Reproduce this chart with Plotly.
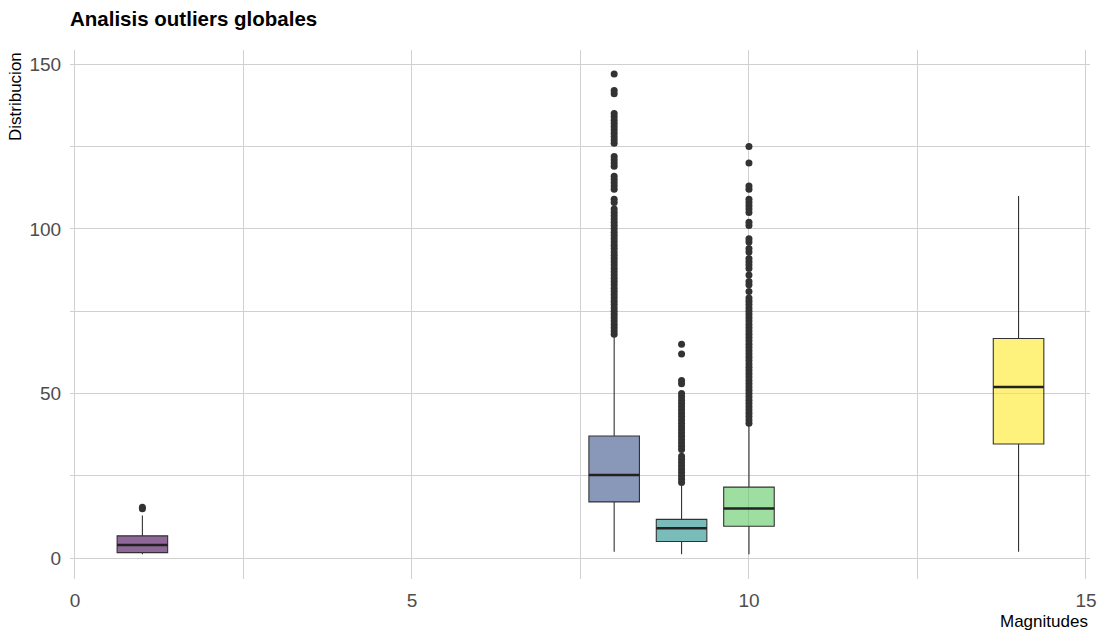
import plotly.graph_objects as go

# Box statistics per magnitude
magnitudes = [1, 8, 9, 10, 14]
q1 = [1.7, 17.1, 5.1, 9.7, 34.7]
medians = [4.0, 25.3, 9.1, 15.1, 52.0]
q3 = [6.8, 37.1, 11.8, 21.6, 66.7]
lower_whisker = [1.2, 2.0, 1.2, 1.2, 2.0]
upper_whisker = [13.0, 67.5, 22.5, 40.2, 110.0]

# Outlying observations per magnitude
outliers_1 = [15, 15.5]
outliers_8 = [68, 69, 70, 71, 72, 73, 74, 75, 76, 77, 78, 79, 80, 81, 82, 83, 84,
              85, 86, 87, 88, 89, 90, 91, 92, 93, 94, 95, 96, 97, 98, 99, 100, 101,
              102, 103, 104, 105, 106, 108, 109, 112, 113, 114, 115, 116, 119, 120,
              121, 122, 126, 127, 128, 129, 130, 131, 132, 133, 134, 135, 141, 142, 147]
outliers_9 = [23, 24, 25, 26, 27, 28, 29, 30, 31, 33, 34, 35, 36, 37, 38, 39, 40,
              41, 42, 43, 44, 45, 46, 47, 48, 49, 50, 53, 54, 62, 65]
outliers_10 = [41, 42, 43, 44, 45, 46, 47, 48, 49, 50, 51, 52, 53, 54, 55, 56, 57,
               58, 59, 60, 61, 62, 63, 64, 65, 66, 67, 68, 69, 70, 71, 72, 73, 74,
               75, 76, 77, 78, 79, 81, 83, 84, 86, 88, 89, 90, 91, 93, 94, 96, 97,
               101, 102, 105, 106, 107, 108, 109, 112, 113, 120, 125]
outliers_14 = []
outliers = [outliers_1, outliers_8, outliers_9, outliers_10, outliers_14]

# viridis palette with 0.6 alpha fill
fills = ["rgba(68,1,84,0.6)", "rgba(59,82,139,0.6)", "rgba(33,144,140,0.6)",
         "rgba(93,200,99,0.6)", "rgba(253,231,37,0.6)"]

BOX_WIDTH = 0.75
FONT = "Liberation Sans, Arial, sans-serif"
GRID = "#D0D0D0"

fig = go.Figure()
for i, m in enumerate(magnitudes):
    fig.add_trace(go.Box(
        x=[m], q1=[q1[i]], median=[medians[i]], q3=[q3[i]],
        lowerfence=[lower_whisker[i]], upperfence=[upper_whisker[i]],
        width=BOX_WIDTH, fillcolor=fills[i],
        line=dict(color="#333333", width=1.1), whiskerwidth=0,
        boxpoints=False, showlegend=False,
    ))
    fig.add_trace(go.Scatter(
        x=[m - BOX_WIDTH / 2, m + BOX_WIDTH / 2], y=[medians[i], medians[i]],
        mode="lines", line=dict(color="#222222", width=2.5),
        showlegend=False, hoverinfo="skip",
    ))
    if outliers[i]:
        fig.add_trace(go.Scatter(
            x=[m] * len(outliers[i]), y=outliers[i], mode="markers",
            marker=dict(color="#333333", size=7, line=dict(width=0)),
            showlegend=False,
        ))

axis_common = dict(
    showgrid=True, gridcolor=GRID, gridwidth=1.3, zeroline=False, showline=False,
    ticks="outside", ticklen=4, tickcolor="rgba(0,0,0,0)",
    tickfont=dict(family=FONT, size=19, color="#4D4D4D"),
)

fig.update_layout(
    width=1108, height=630,
    margin=dict(l=70, r=11, t=50, b=51),
    plot_bgcolor="white", paper_bgcolor="white",
    font=dict(family=FONT),
    xaxis=dict(range=[-0.074, 15.06], tick0=0, dtick=5,
               minor=dict(dtick=2.5, showgrid=True, gridcolor=GRID, gridwidth=1.3),
               **axis_common),
    yaxis=dict(range=[-6.3, 154.3], tick0=0, dtick=50,
               minor=dict(dtick=25, showgrid=True, gridcolor=GRID, gridwidth=1.3),
               **axis_common),
    title=dict(text="<b>Analisis outliers globales</b>", x=70 / 1108, xanchor="left",
               xref="container", y=1 - 12 / 630, yanchor="top", yref="container",
               font=dict(family=FONT, size=20.5, color="#000000")),
    annotations=[
        dict(text="Distribucion", xref="paper", yref="paper", x=0, y=1,
             xanchor="right", yanchor="top", xshift=-43, textangle=-90,
             showarrow=False, font=dict(family=FONT, size=17, color="#000000")),
        dict(text="Magnitudes", xref="paper", yref="paper", x=1, y=0,
             xanchor="right", yanchor="top", yshift=-31,
             showarrow=False, font=dict(family=FONT, size=17, color="#000000")),
    ],
)

fig.write_html("out.html")
